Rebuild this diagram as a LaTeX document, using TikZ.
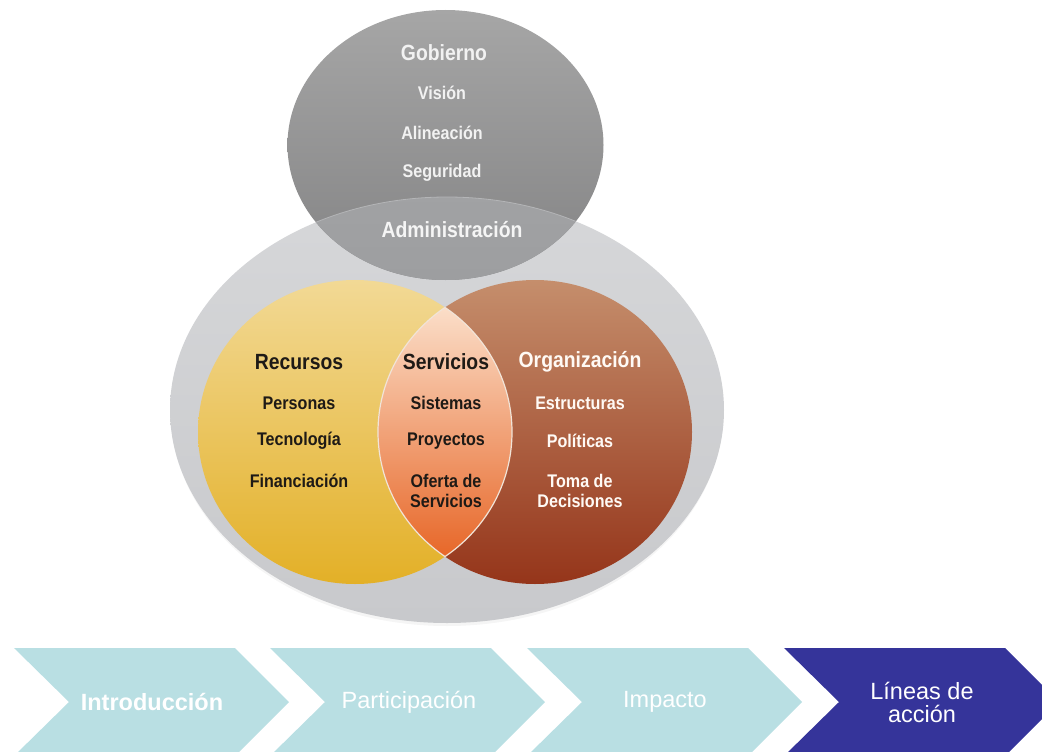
\documentclass[tikz,border=0pt]{standalone}
\usepackage{fontspec}
\setmainfont{Liberation Sans}
\newfontfamily\condf[FakeStretch=0.88]{Liberation Sans}
\definecolor{outertop}{HTML}{D6D7D9}
\definecolor{outerbot}{HTML}{C8C9CC}
\definecolor{gobtop}{HTML}{A6A6A6}
\definecolor{gobbot}{HTML}{838384}
\definecolor{admtop}{HTML}{A9AAAC}
\definecolor{admbot}{HTML}{9D9EA0}
\definecolor{admline}{HTML}{B4B5B7}
\definecolor{yeltop}{HTML}{F2D995}
\definecolor{yelbot}{HTML}{E3B027}
\definecolor{brntop}{HTML}{C58E6C}
\definecolor{brnbot}{HTML}{95351A}
\definecolor{lenstop}{HTML}{FDEBDA}
\definecolor{lensbot}{HTML}{E55A17}
\definecolor{lensline}{HTML}{F1E4D8}
\definecolor{chevlight}{HTML}{B9DFE3}
\definecolor{chevdark}{HTML}{35349A}
\definecolor{darktext}{HTML}{1E1A16}
\tikzset{
  headtxt/.style={font=\condf\bfseries\fontsize{22}{24}\selectfont, inner sep=0pt},
  itemtxt/.style={font=\condf\bfseries\fontsize{18.3}{20}\selectfont, inner sep=0pt, align=center},
  chevtxt/.style={font=\fontsize{23.5}{23}\selectfont, text=white, inner sep=0pt, align=center},
  chevlightfill/.style={fill=chevlight},
  chevdarkfill/.style={fill=chevdark}
}
\begin{document}
\begin{tikzpicture}[x=1pt,y=-1pt]
\useasboundingbox (0,0) rectangle (1042,752);
\clip (0,0) rectangle (1042,752);
% outer ellipse with faint shadow
\fill[black!4] (447,413) ellipse [x radius=276, y radius=213];
\shade[top color=outertop, bottom color=outerbot] (447,410) ellipse [x radius=277, y radius=213];
% gobierno ellipse
\shade[top color=gobtop, bottom color=gobbot] (445.5,145) ellipse [x radius=158, y radius=135];
\begin{scope}
  \clip (447,410) ellipse [x radius=277, y radius=213];
  \shade[top color=admtop, bottom color=admbot] (445.5,145) ellipse [x radius=158, y radius=135];
\end{scope}
\begin{scope}
  \clip (445.5,145) ellipse [x radius=158, y radius=135];
  \draw[admline, line width=0.8pt] (447,410) ellipse [x radius=277, y radius=213];
\end{scope}
% yellow and brown circles
\shade[top color=yeltop, bottom color=yelbot] (355,432) ellipse [x radius=157, y radius=152];
\shade[top color=brntop, bottom color=brnbot] (535,432) ellipse [x radius=157, y radius=152];
\begin{scope}
  \clip (355,432) ellipse [x radius=157, y radius=152];
  \shade[top color=lenstop, bottom color=lensbot] (535,432) ellipse [x radius=157, y radius=152];
  \draw[lensline, line width=1.2pt] (535,432) ellipse [x radius=157, y radius=152];
\end{scope}
\begin{scope}
  \clip (535,432) ellipse [x radius=157, y radius=152];
  \draw[lensline, line width=1.2pt] (355,432) ellipse [x radius=157, y radius=152];
\end{scope}
% gobierno texts
\node[headtxt, text=white!95!black] (gob) at (444,53) {Gobierno};
\node[itemtxt, text=white!95!black] (vis) at (442,93) {Visión};
\node[itemtxt, text=white!95!black] (ali) at (442,133) {Alineación};
\node[itemtxt, text=white!95!black] (seg) at (442,173) {Seguridad};
\node[headtxt, text=white!96!black] (adm) at (452,230) {Administración};
% recursos
\node[headtxt, text=darktext] (rec) at (299,362) {Recursos};
\node[itemtxt, text=darktext] (per) at (299,403) {Personas};
\node[itemtxt, text=darktext] (tec) at (299,441) {Tecnología};
\node[itemtxt, text=darktext] (fin) at (299,481) {Financiación};
% servicios
\node[headtxt, text=darktext] (ser) at (446,362) {Servicios};
\node[itemtxt, text=darktext] (sis) at (446,403) {Sistemas};
\node[itemtxt, text=darktext] (pro) at (446,441) {Proyectos};
\node[itemtxt, text=darktext] (ofe) at (446,491) {Oferta de\\Servicios};
% organizacion
\node[headtxt, text=white!96!orange] (org) at (580,362) {Organización};
\node[itemtxt, text=white!96!orange] (est) at (580,403) {Estructuras};
\node[itemtxt, text=white!96!orange] (pol) at (580,441) {Políticas};
\node[itemtxt, text=white!96!orange] (tom) at (580,491) {Toma de\\Decisiones};
% chevrons
\fill[chevlightfill] (14,648) -- (235,648) -- (289,702) -- (235,756) -- (14,756) -- (69,702) -- cycle;
\fill[chevlightfill] (270,648) -- (491,648) -- (545,702) -- (491,756) -- (270,756) -- (325,702) -- cycle;
\fill[chevlightfill] (527,648) -- (748,648) -- (802,702) -- (748,756) -- (527,756) -- (582,702) -- cycle;
\fill[chevdarkfill] (784,648) -- (1005,648) -- (1059,702) -- (1005,756) -- (784,756) -- (839,702) -- cycle;
\node[chevtxt, font=\bfseries\fontsize{23.5}{23}\selectfont] (intro) at (152,702) {Introducción};
\node[chevtxt] (part) at (409,702) {Participación};
\node[chevtxt] (imp) at (665,702) {Impacto};
\node[chevtxt] (lin) at (922,702) {Líneas de\\acción};
\end{tikzpicture}
\end{document}
